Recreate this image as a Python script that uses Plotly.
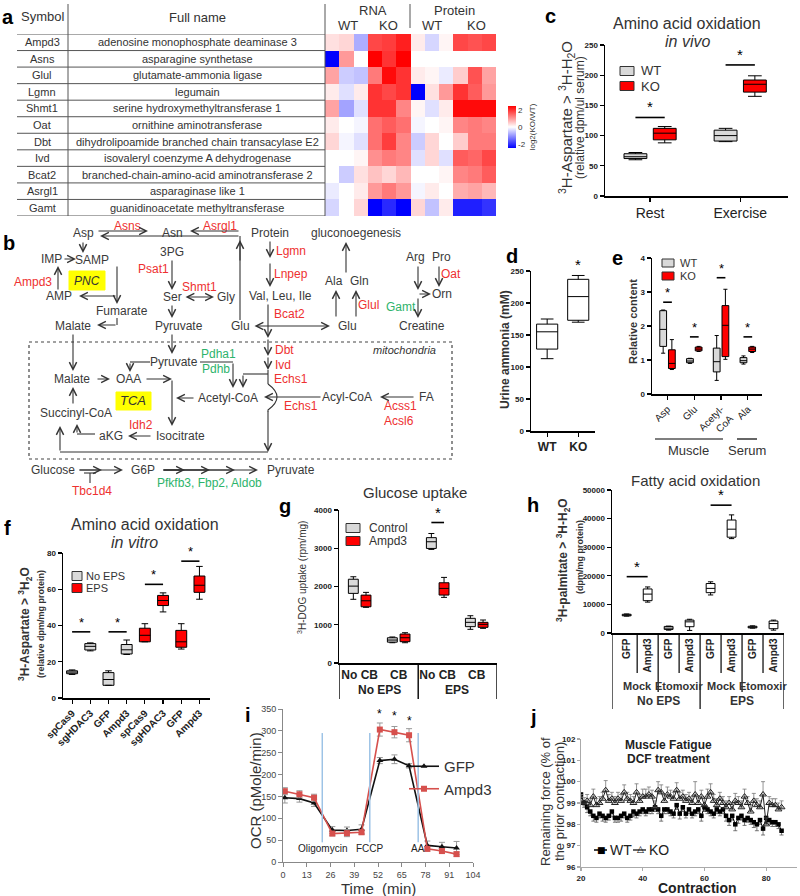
import plotly.graph_objects as go

FONT = "Liberation Sans, Arial, Helvetica, sans-serif"
INK = "#333333"
RED_E = "#ee3030"
GRN_E = "#2db36b"
BOX_RED = "#ff0000"
BOX_GREY = "#d9d9d9"
W, H = 800, 896


def X(px):
    return px / W


def Y(py):
    return 1 - py / H


# ======================= DATA =======================
gene_symbols = ["Ampd3", "Asns", "Glul", "Lgmn", "Shmt1", "Oat", "Dbt", "Ivd", "Bcat2", "Asrgl1", "Gamt"]
gene_full_names = [
    "adenosine monophosphate deaminase 3",
    "asparagine synthetase",
    "glutamate-ammonia ligase",
    "legumain",
    "serine hydroxymethyltransferase 1",
    "ornithine aminotransferase",
    "dihydrolipoamide branched chain transacylase E2",
    "isovaleryl coenzyme A dehydrogenase",
    "branched-chain-amino-acid aminotransferase 2",
    "asparaginase like 1",
    "guanidinoacetate methyltransferase",
]
rna_wt = [[0.3, 0.4, -0.8], [-2.5, 1.0, 0.0], [0.9, -0.5, -0.6], [0.2, -0.3, 0.2], [0.9, -0.9, -0.3],
          [0.2, 0.0, -0.1], [0.4, -0.1, -0.3], [0.0, 0.0, 0.1], [0.0, -0.5, 0.3], [-0.2, 0.0, 0.2], [-0.4, 0.0, 0.4]]
rna_ko = [[1.8, 1.9, 2.2], [2.5, 2.0, 2.5], [1.3, 2.4, 2.0], [2.0, 1.8, 2.0], [2.0, 2.0, 1.2],
          [1.4, 1.6, 1.4], [1.4, 1.9, 1.2], [1.1, 1.3, 1.2], [0.6, 0.4, 0.7], [1.0, 1.3, 1.0], [-2.5, -2.1, -2.5]]
protein_wt = [[0.2, -0.4, 0.1], [None, None, None], [0.2, 0.1, -0.2], [-2.5, 0.3, 1.0], [0.1, -0.3, 0.2],
              [-0.1, 0.0, 0.1], [-0.5, 0.4, 0.0], [-0.3, 0.4, -0.3], [0.0, 0.0, 0.1], [-0.1, 0.2, 0.0], [0.4, -0.6, 0.2]]
protein_ko = [[1.8, 1.7, 1.8], [None, None, None], [0.5, 1.7, 0.9], [2.0, 1.6, 1.0], [2.4, 2.4, 2.4],
              [1.2, 1.3, 1.2], [0.5, 1.3, 1.3], [1.6, 1.5, 1.8], [1.2, 1.3, 1.6], [0.8, 0.9, 0.7], [-2.2, -2.2, -2.0]]

c_groups = ["Rest", "Exercise"]
c_wt = {"lo": [60, 90], "q1": [62, 91], "med": [65, 100], "q3": [70, 109], "hi": [72, 112]}
c_ko = {"lo": [88, 165], "q1": [93, 172], "med": [104, 185], "q3": [112, 192], "hi": [115, 199]}
c_sig = [130, 217]
c_yticks = [0, 50, 100, 150, 200, 250]

d_groups = ["WT", "KO"]
d_box = {"lo": [113, 170], "q1": [128, 173], "med": [155, 210], "q3": [167, 237], "hi": [175, 243]}
d_yticks = [0, 50, 100, 150, 200, 250]

e_labels = ["Asp", "Glu", "Acetyl-<br>CoA", "Ala"]
e_wt = {"lo": [1.2, 0.9, 0.4, 0.88], "q1": [1.4, 0.92, 0.65, 0.92], "med": [1.9, 0.97, 0.95, 0.98],
        "q3": [2.45, 1.04, 1.35, 1.07], "hi": [2.47, 1.05, 1.72, 1.12]}
e_ko = {"lo": [0.72, 1.25, 1.02, 1.22], "q1": [0.75, 1.27, 1.1, 1.25], "med": [0.9, 1.32, 2.02, 1.32],
        "q3": [1.3, 1.38, 2.6, 1.38], "hi": [1.6, 1.4, 3.08, 1.4]}
e_sig = [2.7, 1.68, 3.42, 1.68]
e_yticks = [0, 1, 2, 3, 4]

f_labels = ["spCas9", "sgHDAC3", "GFP", "Ampd3", "spCas9", "sgHDAC3", "GFP", "Ampd3"]
f_noeps = {"lo": [13, 26, 7, 24], "q1": [13.4, 26.5, 7, 24.3], "med": [14.3, 28.5, 10.2, 26.6],
           "q3": [15, 30, 14, 29.5], "hi": [15.5, 30.4, 15, 32]}
f_eps = {"lo": [31, 47.5, 27, 54.5], "q1": [31, 51, 28, 58.3], "med": [34.6, 53.8, 31, 62.2],
         "q3": [38.5, 56.6, 37.3, 67.3], "hi": [41, 58, 41, 72.6]}
f_sig = [(0, 36.5), (2, 36.5), (4, 62.7), (6, 75.5)]
f_yticks = [0, 20, 40, 60, 80]

g_eps = ["No EPS", "EPS"]
g_cb = ["No CB", "CB", "No CB", "CB"]
g_ctrl = {"lo": [1665, 530, 2970, 880], "q1": [1820, 545, 2995, 950], "med": [2010, 600, 3170, 1063],
          "q3": [2190, 660, 3277, 1168], "hi": [2255, 680, 3386, 1236]}
g_ampd3 = {"lo": [1455, 530, 1716, 906], "q1": [1470, 557, 1776, 932], "med": [1627, 661, 1950, 1011],
           "q3": [1775, 757, 2098, 1063], "hi": [1846, 792, 2238, 1124]}
g_sig = [(2, 3673)]

h_labels = ["GFP", "Ampd3", "GFP", "Ampd3", "GFP", "Ampd3", "GFP", "Ampd3"]
h_treat = ["Mock", "Etomoxir", "Mock", "Etomoxir"]
h_cond = ["No EPS", "EPS"]
h_box = {"lo": [5900, 10800, 1000, 900, 13300, 33000, 1700, 1000],
         "q1": [6000, 11300, 1250, 2200, 14100, 33500, 1800, 1500],
         "med": [6250, 13600, 1700, 3900, 15600, 36300, 2050, 3300],
         "q3": [6550, 15400, 2300, 4500, 17300, 39500, 2350, 4200],
         "hi": [6650, 16100, 2400, 4800, 17900, 41300, 2500, 4500]}
h_sig = [(0, 19700), (4, 44700)]

i_time = [1, 9, 17, 27, 35, 43, 53, 61, 69, 79, 87, 95]
i_gfp = [147, 145, 135, 73, 72, 75, 232, 235, 220, 38, 35, 32]
i_gfp_err = [12, 8, 8, 8, 8, 10, 7, 10, 5, 10, 10, 15]
i_ampd3 = [162, 155, 147, 65, 66, 68, 303, 297, 290, 30, 25, 18]
i_ampd3_err = [8, 8, 8, 5, 8, 5, 15, 13, 15, 5, 5, 5]
i_injections = [21.5, 47.5, 74]
i_injection_names = ["Oligomycin", "FCCP", "AA"]
i_stars = [(53, 338), (61, 333), (69, 322)]

j_contraction = list(range(20, 86))
j_wt = [99.4, 99.0, 98.8, 98.6, 98.4, 98.3, 98.5, 98.4, 98.3, 98.4, 98.6,
        98.3, 98.3, 98.4, 98.5, 98.3, 98.4, 98.6, 98.5, 98.6, 98.7,
        98.6, 98.7, 98.7, 98.8, 98.7, 98.4, 98.7, 98.7, 98.6, 98.5,
        98.9, 98.5, 98.8, 98.5, 98.7, 98.5, 98.6, 98.7, 98.4, 98.8,
        98.7, 98.6, 98.5, 98.7, 98.6, 98.7, 98.4, 98.2, 98.4, 98.0,
        98.3, 98.4, 98.2, 98.3, 98.2, 98.1, 98.0, 98.2, 97.8, 98.3,
        98.2, 98.1, 98.1, 98.0, 97.7]
j_wt_err = [0.15, 0.2, 0.25, 0.2, 0.25, 0.2, 0.2, 0.25, 0.2, 0.2, 0.25,
            0.2, 0.2, 0.25, 0.2, 0.2, 0.2, 0.25, 0.2, 0.2, 0.2,
            0.2, 0.2, 0.2, 0.2, 0.2, 0.25, 0.2, 0.2, 0.2, 0.2,
            0.2, 0.25, 0.2, 0.2, 0.2, 0.2, 0.2, 0.2, 0.25, 0.2,
            0.2, 0.2, 0.2, 0.2, 0.2, 0.2, 0.25, 0.25, 0.2, 0.3,
            0.25, 0.2, 0.25, 0.2, 0.2, 0.25, 0.3, 0.2, 0.3, 0.25,
            0.2, 0.2, 0.2, 0.2, 0.2]
j_ko = [99.1, 99.0, 99.1, 98.9, 99.3, 98.9, 99.0, 99.2, 99.6, 99.1, 99.2,
        99.0, 99.2, 99.1, 99.5, 99.2, 99.1, 99.0, 99.5, 99.1, 99.3,
        99.3, 99.4, 99.3, 98.8, 99.6, 99.5, 99.1, 99.4, 99.3, 99.2,
        99.6, 99.2, 99.3, 99.1, 99.2, 99.0, 99.4, 99.0, 99.3, 98.9,
        99.3, 99.5, 99.1, 98.9, 99.2, 99.0, 98.8, 99.0, 98.7, 99.1,
        99.0, 98.8, 99.3, 99.0, 98.6, 99.1, 98.9, 98.8, 99.4, 98.0,
        99.0, 98.9, 98.9, 98.7, 98.8]
j_ko_err = [0.3, 0.25, 0.3, 0.3, 0.35, 0.3, 0.3, 0.3, 0.45, 0.3, 0.3,
            0.3, 0.3, 0.3, 0.35, 0.3, 0.3, 0.3, 0.4, 0.3, 0.35,
            0.35, 0.35, 0.3, 0.3, 0.4, 0.35, 0.3, 0.35, 0.3, 0.3,
            0.35, 0.3, 0.3, 0.3, 0.3, 0.3, 0.6, 0.3, 0.3, 0.3,
            0.35, 0.4, 0.3, 0.3, 0.3, 0.3, 0.3, 0.3, 0.3, 0.35,
            0.3, 0.3, 0.35, 0.3, 0.3, 0.35, 0.3, 0.3, 0.6, 0.3,
            0.3, 0.3, 0.3, 0.3, 0.3]

# ======================= FIGURE =======================
fig = go.Figure()
ann = []
shp = []

BOXGAP = 0.35
BOXGROUPGAP = 0.22
GROUP_OFF = 0.25 * (1 - BOXGAP)


def note(x, y, s, xref="paper", yref="paper", size=12, color=INK, bold=False,
         xa="center", ya="middle", angle=0, family=FONT, yshift=0):
    if xref == "paper":
        x = X(x)
    if yref == "paper":
        y = Y(y)
    ann.append(dict(x=x, y=y, xref=xref, yref=yref, text=s, showarrow=False,
                    xanchor=xa, yanchor=ya, textangle=angle, yshift=yshift,
                    font=dict(family=family, size=size, color=color,
                              weight="bold" if bold else "normal")))


def arrow(x0, y0, x1, y1, both=False, color=INK):
    ann.append(dict(x=X(x1), y=Y(y1), xref="paper", yref="paper", ax=x0 - x1, ay=y0 - y1,
                    text="", showarrow=True, arrowhead=5, arrowsize=1.3, arrowwidth=1.1,
                    startarrowhead=5, startarrowsize=1.3,
                    arrowside="end+start" if both else "end", arrowcolor=color,
                    standoff=0, startstandoff=0))


def seg(x0, y0, x1, y1, color=INK, width=1.1, dash="solid", xref="paper", yref="paper"):
    if xref == "paper":
        x0, x1 = X(x0), X(x1)
    if yref == "paper":
        y0, y1 = Y(y0), Y(y1)
    shp.append(dict(type="line", xref=xref, yref=yref, x0=x0, x1=x1, y0=y0, y1=y1,
                    line=dict(color=color, width=width, dash=dash)))


def rect(x0, y0, x1, y1, fill="rgba(0,0,0,0)", color=INK, width=1, dash="solid"):
    shp.append(dict(type="rect", xref="paper", yref="paper", x0=X(x0), x1=X(x1), y0=Y(y1), y1=Y(y0),
                    fillcolor=fill, line=dict(color=color, width=width, dash=dash), layer="below"))


def box(stats, x, fill, xa, ya, og=None, ag=None, width=None):
    kw = dict(x=x, q1=stats["q1"], median=stats["med"], q3=stats["q3"],
              lowerfence=stats["lo"], upperfence=stats["hi"], orientation="v",
              fillcolor=fill, line=dict(color="black", width=1), whiskerwidth=0.6,
              boxpoints=False, showlegend=False, hoverinfo="skip", xaxis=xa, yaxis=ya)
    if og is not None:
        kw["offsetgroup"] = og
    if ag is not None:
        kw["alignmentgroup"] = ag
    if width is not None:
        kw["width"] = width
    fig.add_trace(go.Box(**kw))


def sig(xa, ya, xl, xr, yv, size=15):
    shp.append(dict(type="line", xref=xa, yref=ya, x0=xl, x1=xr, y0=yv, y1=yv,
                    line=dict(color="black", width=1.6)))
    ann.append(dict(xref=xa, yref=ya, x=(xl + xr) / 2, y=yv, text="*", showarrow=False,
                    yanchor="bottom", font=dict(family=FONT, size=size, color="black")))


def swatch_legend(items, cx, cy0, dy, w, h, size, text_x):
    for k, (label, fill) in enumerate(items):
        cy = cy0 + k * dy
        shp.append(dict(type="rect", xref="paper", yref="paper", x0=X(cx - w / 2), x1=X(cx + w / 2),
                        y0=Y(cy + h / 2), y1=Y(cy - h / 2), fillcolor=fill,
                        line=dict(color="#333", width=1)))
        note(text_x, cy, label, size=size, xa="left")


def prism_axis(**kw):
    d = dict(showline=True, linecolor="black", linewidth=1.5, ticks="outside", ticklen=4,
             tickwidth=1.2, tickcolor="black", showgrid=False, zeroline=False, showticklabels=True,
             ticklabeloverflow="allow",
             tickfont=dict(family=FONT, size=8, color="#222", weight="bold"))
    d.update(kw)
    return d


# ---------------- (a) ----------------
z = [rw + rk + pw + pk for rw, rk, pw, pk in zip(rna_wt, rna_ko, protein_wt, protein_ko)]
fig.add_trace(go.Heatmap(
    z=z, x=list(range(12)), y=list(range(len(gene_symbols))), xaxis="x", yaxis="y",
    colorscale=[[0, "#0000ff"], [0.5, "#ffffff"], [1, "#ff0000"]], zmin=-2.5, zmax=2.5,
    hoverinfo="skip",
    colorbar=dict(x=X(508), xanchor="left", xpad=0, ypad=0, y=Y(127), yanchor="middle",
                  len=42, lenmode="pixels", thickness=8, thicknessmode="pixels",
                  tickvals=[-2, 0, 2], ticktext=["-2", "0", "2"], ticks="", outlinewidth=0,
                  tickfont=dict(family=FONT, size=8, color="#333"),
                  title=dict(text="log2(KO/WT)", side="right", font=dict(family=FONT, size=8, color="#333")))))

for k, (sym, full) in enumerate(zip(gene_symbols, gene_full_names)):
    note(42, k, sym, yref="y", size=11)
    note(197, k, full, yref="y", size=11)
for k in range(len(gene_symbols) + 1):
    seg(17, k - 0.5, 325, k - 0.5, color="#555", width=1, yref="y")
seg(68, 4, 68, 216, color="#555", width=1)
seg(325, 4, 325, 216, color="#555", width=1)
seg(410, 4, 410, 28, color="#555", width=1)
note(42, 16, "Symbol", size=13)
note(197, 17, "Full name", size=13)
note(373, 10, "RNA", size=13)
note(348, 26, "WT", size=13)
note(388, 26, "KO", size=13)
note(454, 10, "Protein", size=13)
note(432, 26, "WT", size=13)
note(477, 26, "KO", size=13)

# ---------------- (b) ----------------
b_nodes = [("Asp", 83, 233), ("Asn", 172, 233), ("Protein", 270, 233), ("gluconoegenesis", 356, 233),
           ("IMP", 51, 259), ("SAMP", 92, 260), ("3PG", 172, 252), ("Arg", 415, 257), ("Pro", 441, 257),
           ("AMP", 59, 296), ("Ser", 172, 297), ("Gly", 226, 297), ("Val, Leu, Ile", 280, 296),
           ("Ala", 334, 281), ("Gln", 359, 281), ("Orn", 442, 294),
           ("Fumarate", 122, 311), ("Malate", 73, 326), ("Pyruvate", 179, 326), ("Glu", 240, 326),
           ("Glu", 347, 326), ("Creatine", 422, 326),
           ("Pyruvate", 174, 362), ("Malate", 72, 379), ("OAA", 128, 379), ("Acetyl-CoA", 228, 398),
           ("Acyl-CoA", 347, 397), ("FA", 427, 397), ("Succinyl-CoA", 76, 413), ("aKG", 111, 436),
           ("Isocitrate", 180, 436), ("Glucose", 53, 470), ("G6P", 143, 470), ("Pyruvate", 291, 470)]
b_red = [("Asns", 127, 226), ("Asrgl1", 220, 226), ("Ampd3", 33, 282), ("Psat1", 153, 269),
         ("Shmt1", 199, 287), ("Lgmn", 291, 251), ("Lnpep", 291, 274), ("Bcat2", 289, 314),
         ("Glul", 368, 305), ("Oat", 451, 274), ("Dbt", 284, 350), ("Ivd", 283, 365),
         ("Echs1", 291, 379), ("Echs1", 301, 406), ("Acss1", 400, 406), ("Acsl6", 399, 421),
         ("Idh2", 141, 425), ("Tbc1d4", 92, 491)]
b_green = [("Gamt", 401, 307), ("Pdha1", 218, 354), ("Pdhb", 216, 369), ("Pfkfb3, Fbp2, Aldob", 209, 483)]

rect(29, 342, 452, 459, color="#444", width=1.2, dash="dot")
rect(69, 271, 105, 290, fill="#ffff00", color="#ffff00")
rect(116, 392, 151, 410, fill="#ffff00", color="#ffff00")
note(87, 281, "<i>PNC</i>", size=12)
note(133, 401, "<i>TCA</i>", size=13)
note(404, 350, "<i>mitochondria</i>", size=11)
for s, px, py in b_nodes:
    note(px, py, s, size=12, color="#3a3a3a")
for s, px, py in b_red:
    note(px, py, s, size=12, color=RED_E)
for s, px, py in b_green:
    note(px, py, s, size=12, color=GRN_E)

for a in [(97, 231, 148, 231), (240, 236, 100, 236), (240, 231, 190, 231), (240, 262, 240, 240),
          (83, 241, 83, 253), (63, 259, 76, 259), (58, 291, 58, 266), (117, 265, 117, 304),
          (117, 296, 79, 296), (117, 325, 97, 325), (172, 259, 172, 290), (172, 304, 172, 318),
          (73, 333, 73, 371), (172, 333, 172, 354), (270, 240, 270, 258), (270, 262, 270, 287),
          (268, 303, 268, 338), (268, 338, 268, 356), (268, 356, 268, 370), (268, 410, 268, 452),
          (60, 452, 60, 426), (346, 274, 346, 242), (336, 318, 336, 290), (356, 318, 356, 290),
          (418, 265, 418, 290), (439, 265, 439, 287), (418, 294, 431, 294), (418, 297, 418, 318),
          (130, 362, 130, 372), (233, 362, 233, 388), (243, 374, 243, 388), (96, 379, 110, 379),
          (145, 379, 172, 379), (172, 379, 172, 426), (195, 398, 176, 398), (322, 397, 264, 397),
          (415, 397, 380, 397), (152, 436, 128, 436), (77, 434, 77, 424), (73, 405, 73, 387),
          (78, 470, 123, 470), (78, 470, 102, 470), (162, 470, 258, 470), (162, 470, 185, 470),
          (162, 470, 210, 470), (162, 470, 235, 470)]:
    arrow(*a)
arrow(184, 297, 214, 297, both=True)
arrow(253, 326, 330, 326, both=True)
for l in [(240, 320, 240, 236), (117, 318, 117, 325), (150, 362, 130, 362), (200, 362, 233, 362),
          (268, 374, 243, 374), (268, 370, 268, 384), (268, 452, 60, 452), (95, 434, 77, 434),
          (84, 473, 96, 473), (90, 473, 90, 483)]:
    seg(*l)
shp.append(dict(type="path", xref="paper", yref="paper",
                path="M {:.5f},{:.5f} Q {:.5f},{:.5f} {:.5f},{:.5f} L {:.5f},{:.5f}".format(
                    X(268), Y(384), X(286), Y(397), X(268), Y(410), X(268), Y(412)),
                line=dict(color=INK, width=1.1)))

# ---------------- (c) ----------------
box(c_wt, c_groups, BOX_GREY, "x2", "y2", og="WT", ag="c")
box(c_ko, c_groups, BOX_RED, "x2", "y2", og="KO", ag="c")
for k, yv in enumerate(c_sig):
    sig("x2", "y2", k - GROUP_OFF, k + GROUP_OFF, yv)
swatch_legend([("WT", BOX_GREY), ("KO", BOX_RED)], 627, 71, 15, 14, 9, 13, 639)
note(687, 23, "Amino acid oxidation", size=16)
note(687, 41, "<i>in vivo</i>", size=16)
note(566, 118, "<sup>3</sup>H-Aspartate &gt; <sup>3</sup>H-H<sub>2</sub>O", size=15, angle=-90)
note(580, 118, "(relative dpm/ul serum)", size=12, angle=-90)

# ---------------- (d) ----------------
box(d_box, d_groups, "white", "x3", "y3", width=0.68)
note("KO", d_yticks[-1], "*", xref="x3", yref="y3", size=15, color="black", ya="bottom", yshift=-4)
note(505, 350, "Urine ammonia (mM)", size=12, bold=True, angle=-90)

# ---------------- (e) ----------------
box(e_wt, e_labels, BOX_GREY, "x4", "y4", og="WT", ag="e")
box(e_ko, e_labels, BOX_RED, "x4", "y4", og="KO", ag="e")
for k, yv in enumerate(e_sig):
    sig("x4", "y4", k - GROUP_OFF, k + GROUP_OFF, yv, size=13)
swatch_legend([("WT", BOX_GREY), ("KO", BOX_RED)], 668, 263, 13, 12, 8, 11, 678)
note(633, 322, "Relative content", size=11, bold=True, angle=-90)
seg(655, 439, 723, 439, color="black", width=1.2)
seg(737, 439, 757, 439, color="black", width=1.2)
note(688, 450, "Muscle", size=13)
note(747, 450, "Serum", size=13)

# ---------------- (f) ----------------
f_pos = list(range(len(f_labels)))
box(f_noeps, f_pos[:4], BOX_GREY, "x5", "y5", width=0.6)
box(f_eps, f_pos[4:], BOX_RED, "x5", "y5", width=0.6)
for k, yv in f_sig:
    sig("x5", "y5", f_pos[k], f_pos[k + 1], yv, size=13)
swatch_legend([("No EPS", BOX_GREY), ("EPS", BOX_RED)], 77, 576, 12, 10, 9, 11, 84)
note(145, 524, "Amino acid oxidation", size=16)
note(134, 542, "<i>in vitro</i>", size=16)
note(25, 624, "<sup>3</sup>H-Aspartate &gt; <sup>3</sup>H<sub>2</sub>O", size=12, bold=True, angle=-90)
note(41, 624, "(relative dpm/mg protein)", size=9, bold=True, angle=-90)

# ---------------- (g) ----------------
g_pos = list(range(len(g_cb)))
box(g_ctrl, g_pos, BOX_GREY, "x6", "y6", og="Control", ag="g")
box(g_ampd3, g_pos, BOX_RED, "x6", "y6", og="Ampd3", ag="g")
G_RANGE = [-0.53, 3.52]
for k, yv in g_sig:
    sig("x6", "y6", g_pos[k] - GROUP_OFF, g_pos[k] + GROUP_OFF, yv)
for k in range(len(g_eps)):
    mid = (g_pos[2 * k] + g_pos[2 * k + 1]) / 2
    note(mid, 690, g_eps[k], xref="x6", size=12, bold=True, color="#222")
for edge in [G_RANGE[0], (g_pos[1] + g_pos[2]) / 2, G_RANGE[1]]:
    seg(edge, 663, edge, 699, color="black", width=1.4, xref="x6")
swatch_legend([("Control", BOX_GREY), ("Ampd3", BOX_RED)], 353, 528, 13, 14, 9, 12, 367)
note(415, 492, "Glucose uptake", size=15)
note(302, 578, "<sup>3</sup>H-DOG uptake (rpm/mg)", size=10, angle=-90)

# ---------------- (h) ----------------
h_pos = list(range(len(h_labels)))
box(h_box, h_pos, "white", "x7", "y7", width=0.42)
for k, yv in h_sig:
    sig("x7", "y7", h_pos[k], h_pos[k + 1], yv)
for k in range(len(h_treat)):
    mid = (h_pos[2 * k] + h_pos[2 * k + 1]) / 2
    seg(mid, 633, mid, 673, color="black", width=1.2, xref="x7")
    note(mid, 686, h_treat[k], xref="x7", size=11, bold=True, color="#333")
for k in range(len(h_treat) + 1):
    edge = k * 2 - 0.5
    if k == 0:
        edge = -0.7
    long_line = (k % 2 == 0)
    seg(edge, 633, edge, 709 if long_line else 692, color="black", width=1.2, xref="x7")
for k in range(len(h_cond)):
    mid = (h_pos[4 * k] + h_pos[4 * k + 3]) / 2
    note(mid, 701, h_cond[k], xref="x7", size=12, bold=True, color="#333")
note(695, 480, "Fatty acid oxidation", size=15)
note(563, 560, "<sup>3</sup>H-palmitate &gt; <sup>3</sup>H-H<sub>2</sub>O", size=12, bold=True, angle=-90)
note(580, 557, "(dpm/mg protein)", size=9, bold=True, angle=-90)

# ---------------- (i) ----------------
fig.add_trace(go.Scatter(x=i_time, y=i_gfp, name="GFP", mode="lines+markers", xaxis="x8", yaxis="y8",
                         line=dict(color="#111111", width=1.6), marker=dict(symbol="triangle-up", size=6),
                         error_y=dict(type="data", array=i_gfp_err, color="#999999", thickness=1, width=3),
                         legend="legend", hoverinfo="skip"))
fig.add_trace(go.Scatter(x=i_time, y=i_ampd3, name="Ampd3", mode="lines+markers", xaxis="x8", yaxis="y8",
                         line=dict(color="#d6504d", width=1.6), marker=dict(symbol="square", size=6),
                         error_y=dict(type="data", array=i_ampd3_err, color="#999999", thickness=1, width=3),
                         legend="legend", hoverinfo="skip"))
for t, lab in zip(i_injections, i_injection_names):
    seg(t, 45, t, 295, color="#9dc3e6", width=1.5, xref="x8", yref="y8")
    note(t, 30, lab, xref="x8", yref="y8", size=10, color="#222")
for t, yv in i_stars:
    note(t, yv, "*", xref="x8", yref="y8", size=12, color="black")
note(255, 790, "OCR (pMole/min)", size=15, angle=-90)
note(378, 888, "Time  (min)", size=15)

# ---------------- (j) ----------------
fig.add_trace(go.Scatter(x=j_contraction, y=j_wt, name="WT", mode="lines+markers", xaxis="x9", yaxis="y9",
                         line=dict(color="black", width=1), marker=dict(symbol="square", size=4.5, color="black"),
                         error_y=dict(type="data", symmetric=False, array=[0] * len(j_wt), arrayminus=j_wt_err,
                                      color="#555", thickness=0.8, width=2),
                         showlegend=False, hoverinfo="skip"))
fig.add_trace(go.Scatter(x=j_contraction, y=j_ko, name="KO", mode="lines+markers", xaxis="x9", yaxis="y9",
                         line=dict(color="#222", width=1),
                         marker=dict(symbol="triangle-up-open", size=6, color="#222", line=dict(width=1)),
                         error_y=dict(type="data", symmetric=False, array=j_ko_err, arrayminus=[0] * len(j_ko),
                                      color="#777", thickness=0.8, width=2),
                         showlegend=False, hoverinfo="skip"))
seg(594, 850, 607, 850, color="black", width=1.5)
note(601, 850, "■", size=9, color="black", family="DejaVu Sans")
note(608, 850, "WT", size=14, xa="left", color="#222")
seg(633, 850, 646, 850, color="black", width=1.2)
note(640, 849, "△", size=9, color="black", family="DejaVu Sans")
note(647, 850, "KO", size=14, xa="left", color="#222")
note(668, 745, "Muscle Fatigue", size=12, bold=True, color="#222")
note(668, 759, "DCF treatment", size=12, bold=True, color="#222")
note(545, 802, "Remaining force (% of", size=13, angle=-90)
note(559, 802, "the prior contraction)", size=13, angle=-90)
note(697, 888, "Contraction", size=14, bold=True, color="#222")

for s, px, py in [("a", 8, 17), ("b", 9, 243), ("c", 550, 16), ("d", 512, 256), ("e", 617, 258),
                  ("f", 7, 528), ("g", 285, 506), ("h", 533, 505), ("i", 248, 715), ("j", 533, 717)]:
    note(px, py, s, size=20, bold=True, color="black")

# ======================= LAYOUT =======================
fig.update_layout(
    width=W, height=H, margin=dict(l=0, r=0, t=0, b=0, pad=0, autoexpand=False),
    paper_bgcolor="white", plot_bgcolor="white",
    font=dict(family=FONT, color=INK),
    boxmode="group", boxgap=BOXGAP, boxgroupgap=BOXGROUPGAP,
    showlegend=True, hovermode=False, dragmode=False,
    legend=dict(x=X(404), y=Y(750), xanchor="left", yanchor="top", bgcolor="rgba(0,0,0,0)",
                font=dict(family=FONT, size=15, color="#333"), tracegroupgap=0),
    xaxis=dict(domain=[X(325), X(496)], range=[-0.5, 11.5], visible=False, anchor="y"),
    yaxis=dict(domain=[Y(216), Y(34)], range=[10.5, -0.5], visible=False, anchor="x"),
    xaxis2=prism_axis(domain=[X(605), X(788)], anchor="y2", type="category", range=[-0.5, 1.53],
                      tickfont=dict(family=FONT, size=14, color="#222")),
    yaxis2=prism_axis(domain=[Y(196), Y(45)], anchor="x2", range=[0, 250],
                      tickmode="array", tickvals=c_yticks),
    xaxis3=prism_axis(domain=[X(531), X(595)], anchor="y3", type="category", range=[-0.52, 1.54],
                      tickfont=dict(family=FONT, size=12, color="#222", weight="bold")),
    yaxis3=prism_axis(domain=[Y(431), Y(271)], anchor="x3", range=[0, 250],
                      tickmode="array", tickvals=d_yticks),
    xaxis4=prism_axis(domain=[X(652), X(762)], anchor="y4", type="category", range=[-0.58, 3.53],
                      tickangle=-45, tickfont=dict(family=FONT, size=10, color="#222")),
    yaxis4=prism_axis(domain=[Y(394), Y(258)], anchor="x4", range=[0, 4],
                      tickmode="array", tickvals=e_yticks),
    xaxis5=prism_axis(domain=[X(63), X(210)], anchor="y5", range=[-0.5, 7.58],
                      tickvals=f_pos, ticktext=f_labels, tickangle=-45,
                      tickfont=dict(family=FONT, size=10, color="#222", weight="bold")),
    yaxis5=prism_axis(domain=[Y(698), Y(553)], anchor="x5", range=[0, 80],
                      tickmode="array", tickvals=f_yticks),
    xaxis6=prism_axis(domain=[X(339), X(497)], anchor="y6", range=G_RANGE,
                      tickvals=g_pos, ticktext=g_cb, tickangle=0, ticks="",
                      tickfont=dict(family=FONT, size=12, color="#222", weight="bold")),
    yaxis6=prism_axis(domain=[Y(663), Y(510)], anchor="x6", range=[0, 4000], dtick=1000, tickformat="d"),
    xaxis7=prism_axis(domain=[X(612), X(784)], anchor="y7", range=[-0.7, 7.5],
                      tickvals=h_pos, ticktext=h_labels, tickangle=-90, ticks="",
                      tickfont=dict(family=FONT, size=10, color="#222", weight="bold")),
    yaxis7=prism_axis(domain=[Y(633), Y(490)], anchor="x7", range=[0, 50000], dtick=10000, tickformat="d"),
    xaxis8=dict(domain=[X(283), X(473)], anchor="y8", range=[0, 104], dtick=13, tick0=0,
                showline=True, linecolor="#888", linewidth=1, ticks="outside", ticklen=4, tickcolor="#888",
                showgrid=False, zeroline=False, ticklabeloverflow="allow",
                tickfont=dict(family=FONT, size=9, color="#444")),
    yaxis8=dict(domain=[Y(862), Y(709)], anchor="x8", range=[0, 350], dtick=50,
                showline=True, linecolor="#888", linewidth=1, ticks="outside", ticklen=4, tickcolor="#888",
                showgrid=False, zeroline=False, ticklabeloverflow="allow",
                tickfont=dict(family=FONT, size=9, color="#444")),
    xaxis9=prism_axis(domain=[X(581), X(797)], anchor="y9", range=[20, 90], dtick=20, tick0=20,
                      linecolor="#aaa", linewidth=1, tickcolor="#aaa", ticklen=3),
    yaxis9=prism_axis(domain=[Y(867), Y(739)], anchor="x9", range=[96, 102], dtick=1,
                      linecolor="#aaa", linewidth=1, tickcolor="#aaa", ticklen=3),
    annotations=ann, shapes=shp,
)

fig.write_html("out.html", config={"displayModeBar": False, "staticPlot": True},
               post_script="document.body.style.margin='0px';document.body.style.padding='0px';")
